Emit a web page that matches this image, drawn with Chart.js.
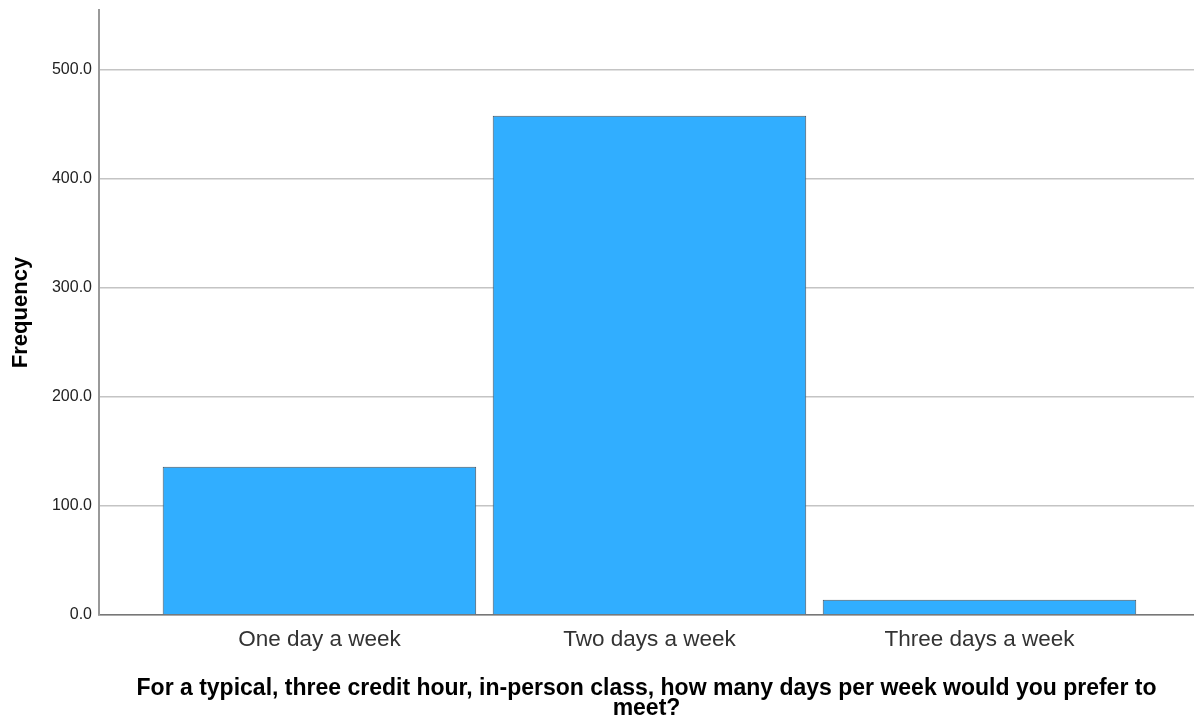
<!DOCTYPE html>
<html>
<head>
<meta charset="utf-8">
<script src="https://cdn.jsdelivr.net/npm/chart.js@4/dist/chart.umd.min.js"></script>
<style>
  html, body { margin: 0; padding: 0; background: #fff; }
  #wrap { width: 1194px; height: 721px; position: relative; }
</style>
</head>
<body>
<div id="wrap"><canvas id="c" width="1194" height="721"></canvas></div>
<script>
const categories = ["One day a week", "Two days a week", "Three days a week"];
const frequencies = [136, 458, 14];
const yTickValues = [0, 100, 200, 300, 400, 500];
const xTitleLines = ["For a typical, three credit hour, in-person class, how many days per week would you prefer to", "meet?"];
const yTitle = "Frequency";

const FONT = "'Liberation Sans', Arial, sans-serif";

const points = categories.map((c, i) => ({ x: i, y: frequencies[i] }));

new Chart(document.getElementById('c'), {
  type: 'bar',
  data: {
    datasets: [{
      data: points,
      backgroundColor: '#31aeff',
      borderColor: '#4a5560',
      borderWidth: 1,
      borderSkipped: 'bottom',
      categoryPercentage: 1,
      barPercentage: 0.95
    }]
  },
  options: {
    responsive: false,
    animation: false,
    devicePixelRatio: 1,
    layout: { padding: { top: 10, right: 0, left: 0, bottom: 0 } },
    plugins: { legend: { display: false }, tooltip: { enabled: false } },
    scales: {
      x: {
        type: 'linear',
        offset: false,
        min: -0.668,
        max: 2.65,
        afterBuildTicks: (s) => { s.ticks = categories.map((c, i) => ({ value: i })); },
        afterFit: (s) => { s.height = 106; s.paddingLeft = 0; s.paddingRight = 0; },
        grid: { display: false, drawTicks: false, offset: false },
        border: { display: true, color: '#777', width: 1.5 },
        ticks: {
          autoSkip: false,
          maxRotation: 0,
          padding: 11,
          color: '#333',
          font: { family: FONT, size: 22.5 },
          callback: (v) => categories[v]
        },
        title: {
          display: true,
          text: xTitleLines,
          color: '#000',
          font: { family: FONT, size: 23, weight: 'bold', lineHeight: 0.87 },
          padding: { top: 0, bottom: 2 }
        }
      },
      y: {
        min: 0,
        max: 555,
        afterBuildTicks: (s) => { s.ticks = yTickValues.map(v => ({ value: v })); },
        afterFit: (s) => { s.width = 99; s.paddingTop = 0; s.paddingBottom = 0; },
        grid: { color: '#c4c4c4', lineWidth: 1.5, drawTicks: false },
        border: { display: true, color: '#999', width: 2 },
        ticks: {
          padding: 7,
          color: '#222',
          font: { family: FONT, size: 16 },
          callback: (v) => Number(v).toFixed(1)
        },
        title: {
          display: true,
          text: yTitle,
          color: '#000',
          font: { family: FONT, size: 22, weight: 'bold', lineHeight: 1.2 },
          padding: { top: 8, bottom: 0 }
        }
      }
    }
  }
});
</script>
</body>
</html>
